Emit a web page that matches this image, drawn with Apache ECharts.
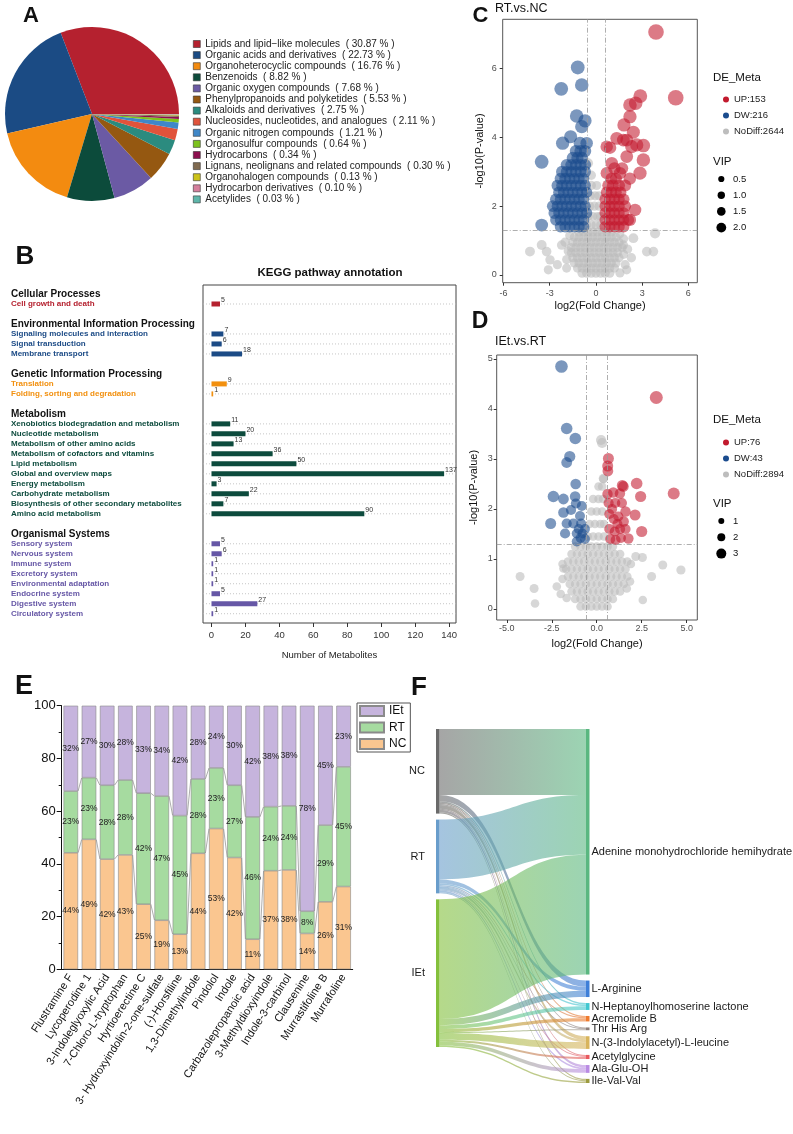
<!DOCTYPE html>
<html>
<head>
<meta charset="utf-8">
<script src="https://cdn.jsdelivr.net/npm/echarts@6/dist/echarts.min.js"></script>
<style>
  html, body { margin: 0; padding: 0; background: #fff; }
  #main { width: 793px; height: 1134px; }
</style>
</head>
<body>
<div id="main"></div>
<script>
const FONT = '"Liberation Sans", Arial, Helvetica, sans-serif';

// ---- A: compound classes (pie) ----
const classNames = [
  'Lipids and lipid\u2212like molecules', 'Organic acids and derivatives', 'Organoheterocyclic compounds',
  'Benzenoids', 'Organic oxygen compounds', 'Phenylpropanoids and polyketides', 'Alkaloids and derivatives',
  'Nucleosides, nucleotides, and analogues', 'Organic nitrogen compounds', 'Organosulfur compounds',
  'Hydrocarbons', 'Lignans, neolignans and related compounds', 'Organohalogen compounds',
  'Hydrocarbon derivatives', 'Acetylides'
];
const classShares = [30.87, 22.73, 16.76, 8.82, 7.68, 5.53, 2.75, 2.11, 1.21, 0.64, 0.34, 0.30, 0.13, 0.10, 0.03];
const classColors = ['#B5212F', '#1B4B84', '#F38B10', '#0C4B3B', '#6B5AA4', '#955811', '#2B8B7F', '#E0533B',
  '#3F87C8', '#7CC21C', '#8C0E4E', '#806A50', '#CCC31A', '#D57F9D', '#5EB6AA'];

// ---- B: KEGG pathway annotation ----
const keggHeaders = ['Cellular Processes', 'Environmental Information Processing', 'Genetic Information Processing',
  'Metabolism', 'Organismal Systems'];
const keggColors = ['#B5212F', '#1C4B86', '#F2900F', '#0D4B3D', '#6657A6'];
const keggPathways = ['Cell growth and death', 'Signaling molecules and interaction', 'Signal transduction',
  'Membrane transport', 'Translation', 'Folding, sorting and degradation',
  'Xenobiotics biodegradation and metabolism', 'Nucleotide metabolism', 'Metabolism of other amino acids',
  'Metabolism of cofactors and vitamins', 'Lipid metabolism', 'Global and overview maps', 'Energy metabolism',
  'Carbohydrate metabolism', 'Biosynthesis of other secondary metabolites', 'Amino acid metabolism',
  'Sensory system', 'Nervous system', 'Immune system', 'Excretory system', 'Environmental adaptation',
  'Endocrine system', 'Digestive system', 'Circulatory system'];
const keggGroupOf = [0, 1, 1, 1, 2, 2, 3, 3, 3, 3, 3, 3, 3, 3, 3, 3, 4, 4, 4, 4, 4, 4, 4, 4];
const keggCounts = [5, 7, 6, 18, 9, 1, 11, 20, 13, 36, 50, 137, 3, 22, 7, 90, 5, 6, 1, 1, 1, 5, 27, 1];
const keggTicks = [0, 20, 40, 60, 80, 100, 120, 140];

// ---- C / D: volcano plots, points are [log2FC, -log10 P, VIP] ----
const volcanoColors = { up: '#C21A2E', dw: '#1B4C8E', no: '#BDBDBD' };
const rtncNames = ['UP:153', 'DW:216', 'NoDiff:2644'];
const rtncUp = [
  [3.9,7.06,3.7],[5.18,5.15,3.7],[2.88,5.2,3.0],[2.58,4.99,2.9],[2.21,4.94,2.9],[2.21,4.6,2.8],[1.82,4.36,2.8],
  [2.43,4.15,2.7],[1.35,3.97,2.6],[2.0,3.92,2.6],[0.92,3.7,2.5],[2.65,3.78,2.8],[3.08,3.76,2.9],[3.08,3.34,2.9],
  [2.86,2.96,2.8],[2.21,1.6,2.4],[2.54,1.89,2.5],[1.03,3.25,2.5],[2.0,3.44,2.6],[1.56,2.96,2.5],[0.7,2.96,2.4],
  [2.32,3.73,2.7],[1.78,3.92,2.6],[0.7,3.73,2.5],
  [0.6,1.4,2.1],[0.9,1.4,2.1],[1.2,1.4,2.1],[1.5,1.4,2.1],[1.8,1.4,2.1],
  [0.6,1.6,2.1],[0.9,1.6,2.1],[1.2,1.6,2.1],[1.5,1.6,2.1],[1.8,1.6,2.1],[2.1,1.6,2.2],
  [0.6,1.8,2.1],[0.9,1.8,2.1],[1.2,1.8,2.1],[1.5,1.8,2.1],[1.8,1.8,2.1],
  [0.6,2.0,2.1],[0.9,2.0,2.1],[1.2,2.0,2.1],[1.5,2.0,2.1],[1.9,2.0,2.2],
  [0.6,2.2,2.1],[0.9,2.2,2.1],[1.2,2.2,2.1],[1.5,2.2,2.1],[1.8,2.2,2.2],
  [0.7,2.4,2.2],[1.0,2.4,2.2],[1.3,2.4,2.2],[1.6,2.4,2.2],
  [0.8,2.6,2.3],[1.1,2.6,2.3],[1.5,2.6,2.3],[1.9,2.6,2.3],
  [1.0,2.8,2.3],[1.3,2.8,2.3],[2.2,2.8,2.5],[1.2,3.1,2.4],[1.7,3.1,2.4]
];
const rtncDw = [
  [-1.18,6.03,3.0],[-2.25,5.41,3.0],[-0.92,5.52,2.9],[-1.25,4.62,2.9],[-0.71,4.48,2.8],[-0.92,4.31,2.8],
  [-1.64,4.02,2.7],[-2.16,3.83,2.8],[-1.03,3.83,2.6],[-0.6,3.83,2.5],[-3.52,3.29,3.0],[-3.52,1.45,2.6],
  [-2.3,1.4,2.1],[-2.0,1.4,2.1],[-1.7,1.4,2.1],[-1.4,1.4,2.1],[-1.1,1.4,2.1],[-0.8,1.4,2.1],
  [-2.6,1.6,2.1],[-2.3,1.6,2.1],[-2.0,1.6,2.1],[-1.7,1.6,2.1],[-1.4,1.6,2.1],[-1.1,1.6,2.1],[-0.8,1.6,2.1],
  [-2.7,1.8,2.2],[-2.4,1.8,2.1],[-2.1,1.8,2.1],[-1.8,1.8,2.1],[-1.5,1.8,2.1],[-1.2,1.8,2.1],[-0.9,1.8,2.1],[-0.6,1.8,2.0],
  [-2.8,2.0,2.2],[-2.5,2.0,2.1],[-2.2,2.0,2.1],[-1.9,2.0,2.1],[-1.6,2.0,2.1],[-1.3,2.0,2.1],[-1.0,2.0,2.1],[-0.7,2.0,2.0],
  [-2.6,2.2,2.2],[-2.3,2.2,2.1],[-2.0,2.2,2.1],[-1.7,2.2,2.1],[-1.4,2.2,2.1],[-1.1,2.2,2.1],[-0.8,2.2,2.1],
  [-2.4,2.4,2.2],[-2.1,2.4,2.1],[-1.8,2.4,2.1],[-1.5,2.4,2.1],[-1.2,2.4,2.1],[-0.9,2.4,2.1],[-0.6,2.4,2.0],
  [-2.5,2.6,2.2],[-2.2,2.6,2.2],[-1.9,2.6,2.1],[-1.6,2.6,2.1],[-1.3,2.6,2.1],[-1.0,2.6,2.1],[-0.7,2.6,2.1],
  [-2.3,2.8,2.2],[-2.0,2.8,2.2],[-1.7,2.8,2.1],[-1.4,2.8,2.1],[-1.1,2.8,2.1],[-0.8,2.8,2.1],
  [-2.2,3.0,2.3],[-1.9,3.0,2.2],[-1.6,3.0,2.2],[-1.3,3.0,2.2],[-1.0,3.0,2.2],[-0.7,3.0,2.2],
  [-1.9,3.2,2.3],[-1.6,3.2,2.3],[-1.3,3.2,2.3],[-1.0,3.2,2.3],[-0.7,3.2,2.3],
  [-1.5,3.4,2.4],[-1.2,3.4,2.4],[-0.9,3.4,2.4],[-1.3,3.6,2.4],[-1.0,3.6,2.4],[-0.7,3.6,2.4]
];
const rtncNo = [
  [-0.9,0.05,1.2],[-0.6,0.05,1.2],[-0.3,0.05,1.2],[0,0.05,1.2],[0.3,0.05,1.2],[0.6,0.05,1.2],[0.9,0.05,1.2],
  [-1.2,0.2,1.2],[-0.9,0.2,1.2],[-0.6,0.2,1.2],[-0.3,0.2,1.2],[0,0.2,1.2],[0.3,0.2,1.2],[0.6,0.2,1.2],[0.9,0.2,1.2],[1.2,0.2,1.2],
  [-1.4,0.35,1.2],[-1.1,0.35,1.2],[-0.8,0.35,1.2],[-0.5,0.35,1.2],[-0.2,0.35,1.2],[0.1,0.35,1.2],[0.4,0.35,1.2],[0.7,0.35,1.2],[1.0,0.35,1.2],[1.3,0.35,1.2],
  [-1.5,0.5,1.2],[-1.2,0.5,1.2],[-0.9,0.5,1.2],[-0.6,0.5,1.2],[-0.3,0.5,1.2],[0,0.5,1.2],[0.3,0.5,1.2],[0.6,0.5,1.2],[0.9,0.5,1.2],[1.2,0.5,1.2],[1.5,0.5,1.2],
  [-1.6,0.65,1.2],[-1.3,0.65,1.2],[-1.0,0.65,1.2],[-0.7,0.65,1.2],[-0.4,0.65,1.2],[-0.1,0.65,1.2],[0.2,0.65,1.2],[0.5,0.65,1.2],[0.8,0.65,1.2],[1.1,0.65,1.2],[1.4,0.65,1.2],
  [-1.6,0.8,1.2],[-1.3,0.8,1.2],[-1.0,0.8,1.2],[-0.7,0.8,1.2],[-0.4,0.8,1.2],[-0.1,0.8,1.2],[0.2,0.8,1.2],[0.5,0.8,1.2],[0.8,0.8,1.2],[1.1,0.8,1.2],[1.4,0.8,1.2],[1.7,0.8,1.2],
  [-1.5,0.95,1.2],[-1.2,0.95,1.2],[-0.9,0.95,1.2],[-0.6,0.95,1.2],[-0.3,0.95,1.2],[0,0.95,1.2],[0.3,0.95,1.2],[0.6,0.95,1.2],[0.9,0.95,1.2],[1.2,0.95,1.2],[1.5,0.95,1.2],
  [-1.4,1.1,1.2],[-1.1,1.1,1.2],[-0.8,1.1,1.2],[-0.5,1.1,1.2],[-0.2,1.1,1.2],[0.1,1.1,1.2],[0.4,1.1,1.2],[0.7,1.1,1.2],[1.0,1.1,1.2],[1.3,1.1,1.2],
  [-1.1,1.25,1.2],[-0.8,1.25,1.2],[-0.5,1.25,1.2],[-0.2,1.25,1.2],[0.1,1.25,1.2],[0.4,1.25,1.2],[0.7,1.25,1.2],[1.0,1.25,1.2],
  [-0.6,1.45,1.2],[-0.3,1.45,1.2],[0,1.45,1.2],[0.3,1.45,1.2],[-0.5,1.7,1.2],[-0.2,1.7,1.2],[0.1,1.7,1.2],[0.3,1.7,1.2],
  [-0.4,2.0,1.2],[-0.1,2.0,1.2],[0.2,2.0,1.2],[-0.35,2.3,1.2],[-0.05,2.3,1.2],[0.2,2.3,1.2],[-0.3,2.6,1.3],[0.05,2.6,1.2],
  [-0.3,2.9,1.3],[-0.5,3.25,1.4],
  [-1.9,0.45,1.2],[-1.8,0.7,1.2],[1.8,0.6,1.2],[2.05,0.75,1.3],[-2.0,0.95,1.3],[1.8,1.05,1.2],[-1.7,1.15,1.2],[1.55,1.2,1.2],
  [-4.28,0.68,1.5],[-3.52,0.87,1.5],[3.84,1.21,1.6],[2.43,1.07,1.5],[3.3,0.68,1.4],[3.73,0.68,1.4],[-3.2,0.68,1.4],
  [-2.98,0.44,1.3],[-2.22,0.87,1.4],[1.78,0.87,1.3],[2.0,0.15,1.2],[1.56,0.06,1.2],[-3.09,0.15,1.2],[-2.5,0.3,1.2],
  [2.3,0.5,1.3],[-1.9,0.2,1.2],[1.9,0.3,1.2]
];

const ietrtNames = ['UP:76', 'DW:43', 'NoDiff:2894'];
const ietrtUp = [
  [3.31,4.23,4.0],[0.65,3.01,3.0],[0.61,2.86,3.0],[0.62,2.76,2.9],[1.42,2.47,3.0],[2.22,2.51,3.3],[1.48,2.45,2.9],
  [4.28,2.31,3.5],[0.92,2.33,2.7],[1.29,2.31,2.7],[2.44,2.25,3.1],[0.66,2.12,2.6],[1.03,2.12,2.6],[1.4,2.12,2.6],
  [2.13,1.88,3.0],[2.5,1.55,3.1],[1.76,1.41,2.7],[0.7,1.9,2.6],[0.95,1.8,2.6],[1.2,1.85,2.6],[1.5,1.75,2.7],
  [0.7,1.6,2.6],[1.0,1.55,2.6],[1.3,1.6,2.6],[0.75,1.4,2.5],[1.05,1.38,2.5],[1.35,1.42,2.5],[1.6,1.6,2.6],
  [0.85,2.0,2.6],[1.15,1.7,2.6],[1.6,1.95,2.7],[0.6,2.3,2.7]
];
const ietrtDw = [
  [-1.96,4.85,3.8],[-1.67,3.61,3.3],[-1.19,3.41,3.3],[-1.5,3.05,3.1],[-1.67,2.93,2.9],[-1.17,2.5,2.8],
  [-2.41,2.25,3.2],[-1.85,2.2,2.9],[-1.2,2.25,2.8],[-1.16,2.11,2.6],[-0.83,2.06,2.5],[-1.85,1.93,2.8],
  [-1.43,1.98,2.6],[-0.93,1.86,2.5],[-2.56,1.71,3.0],[-1.67,1.71,2.6],[-1.3,1.71,2.6],[-0.87,1.71,2.5],
  [-1.76,1.51,2.6],[-1.11,1.51,2.5],[-0.8,1.51,2.4],[-0.65,1.6,2.4],[-1.11,1.35,2.5],[-0.65,1.4,2.4],
  [-1.0,1.6,2.4],[-0.9,1.42,2.4]
];
const ietrtNo = [
  [-0.9,0.05,1.8],[-0.6,0.05,1.8],[-0.3,0.05,1.8],[0,0.05,1.8],[0.3,0.05,1.8],[0.6,0.05,1.8],
  [-1.2,0.2,1.8],[-0.9,0.2,1.8],[-0.6,0.2,1.8],[-0.3,0.2,1.8],[0,0.2,1.8],[0.3,0.2,1.8],[0.6,0.2,1.8],[0.9,0.2,1.8],
  [-1.4,0.35,1.8],[-1.1,0.35,1.8],[-0.8,0.35,1.8],[-0.5,0.35,1.8],[-0.2,0.35,1.8],[0.1,0.35,1.8],[0.4,0.35,1.8],[0.7,0.35,1.8],[1.0,0.35,1.8],[1.3,0.35,1.8],
  [-1.5,0.5,1.8],[-1.2,0.5,1.8],[-0.9,0.5,1.8],[-0.6,0.5,1.8],[-0.3,0.5,1.8],[0,0.5,1.8],[0.3,0.5,1.8],[0.6,0.5,1.8],[0.9,0.5,1.8],[1.2,0.5,1.8],[1.5,0.5,1.8],
  [-1.6,0.65,1.8],[-1.3,0.65,1.8],[-1.0,0.65,1.8],[-0.7,0.65,1.8],[-0.4,0.65,1.8],[-0.1,0.65,1.8],[0.2,0.65,1.8],[0.5,0.65,1.8],[0.8,0.65,1.8],[1.1,0.65,1.8],[1.4,0.65,1.8],[1.7,0.65,1.8],
  [-1.7,0.8,1.8],[-1.4,0.8,1.8],[-1.1,0.8,1.8],[-0.8,0.8,1.8],[-0.5,0.8,1.8],[-0.2,0.8,1.8],[0.1,0.8,1.8],[0.4,0.8,1.8],[0.7,0.8,1.8],[1.0,0.8,1.8],[1.3,0.8,1.8],[1.6,0.8,1.8],
  [-1.6,0.95,1.8],[-1.3,0.95,1.8],[-1.0,0.95,1.8],[-0.7,0.95,1.8],[-0.4,0.95,1.8],[-0.1,0.95,1.8],[0.2,0.95,1.8],[0.5,0.95,1.8],[0.8,0.95,1.8],[1.1,0.95,1.8],[1.4,0.95,1.8],[1.7,0.95,1.8],
  [-1.4,1.1,1.8],[-1.1,1.1,1.8],[-0.8,1.1,1.8],[-0.5,1.1,1.8],[-0.2,1.1,1.8],[0.1,1.1,1.8],[0.4,1.1,1.8],[0.7,1.1,1.8],[1.0,1.1,1.8],[1.3,1.1,1.8],
  [-1.2,1.25,1.8],[-0.9,1.25,1.8],[-0.6,1.25,1.8],[-0.3,1.25,1.8],[0,1.25,1.8],[0.3,1.25,1.8],[0.6,1.25,1.8],[0.9,1.25,1.8],
  [-0.5,1.45,1.8],[-0.2,1.45,1.8],[0.1,1.45,1.8],[0.4,1.45,1.8],[-0.4,1.7,1.8],[-0.1,1.7,1.8],[0.2,1.7,1.8],[0.4,1.7,1.8],
  [-0.3,1.95,1.8],[0,1.95,1.8],[0.3,1.95,1.8],[-0.2,2.2,1.8],[0.1,2.2,1.8],[0.35,2.2,1.8],[0.1,2.45,1.8],[0.3,2.45,1.8],
  [0.37,2.6,1.8],[0.24,3.38,2.6],[0.3,3.32,2.6],[0.37,2.61,2.2],
  [-1.9,0.9,1.8],[1.9,0.9,1.8],[-1.9,0.6,1.8],[1.85,0.55,1.8],
  [-4.26,0.65,2.0],[-3.48,0.41,2.0],[-3.43,0.11,1.8],[3.05,0.65,2.0],[3.67,0.88,2.0],[4.68,0.78,2.1],[2.56,0.18,1.8],
  [2.17,1.05,2.0],[2.54,1.03,2.0],[1.67,0.41,1.8],[-2.22,0.45,1.8],[-1.85,0.81,1.8],[-2.0,0.3,1.8],[-1.67,0.22,1.8]
];
const vipKeysC = [0.5, 1.0, 1.5, 2.0];
const vipKeysD = [1, 2, 3];

// ---- E: relative abundance of indole compounds ----
const compounds = ['Flustramine F', 'Lycoperodine 1', '3-Indoleglyoxylic Acid', '7-Chloro-L-tryptophan',
  'Hyrtioerectine C', '3- Hydroxyindolin-2-one-sulfate', '(-)-Horsfiline', '1,3-Dimethylindole', 'Pindolol',
  'Indole', 'Carbazolepropanoic acid', '3-Methyldioxyindole', 'Indole-3-carbinol', 'Clausenine',
  'Murrastifoline B', 'Murrafoline'];
const shareNC = [44.2, 49.3, 41.8, 43.4, 24.7, 18.6, 13.3, 44.0, 53.4, 42.4, 11.4, 37.4, 37.7, 13.6, 25.6, 31.4];
const shareRT = [23.4, 23.4, 28.0, 28.4, 42.1, 47.1, 45.0, 28.2, 23.0, 27.4, 46.4, 24.3, 24.3, 8.4, 29.1, 45.4];
const shareIEt = [32.4, 27.3, 30.2, 28.2, 33.2, 34.3, 41.7, 27.8, 23.6, 30.2, 42.2, 38.3, 38.0, 78.0, 45.3, 23.2];

// ---- F: sankey ----
const sankeyGroups = ['NC', 'RT', 'IEt'];
const groupColors = ['#6A6A6A', '#699DCB', '#84C03C'];
const sankeyMetabolites = ['Adenine monohydrochloride hemihydrate', 'L-Arginine', 'N-Heptanoylhomoserine lactone',
  'Acremolide B', 'Thr His Arg', 'N-(3-Indolylacetyl)-L-leucine', 'Acetylglycine', 'Ala-Glu-OH', 'Ile-Val-Val'];
const metaboliteColors = ['#5AB780', '#3F7FD8', '#41C7D0', '#EE7A2E', '#8D7F7A', '#D8B45C', '#E8595E', '#B98BE3', '#9C9B3E'];
const flowNC = [64, 6, 1.5, 1.3, 0.9, 3.5, 1, 2.5, 1.3];
const flowRT = [58, 4, 1.5, 1, 0.9, 2.3, 1, 1.6, 1.2];
const flowIEt = [116, 6, 3.7, 3, 0.9, 6.5, 2, 3.5, 1.5];

// ---------- build ----------
const keggRows = [];
let lastGroup = -1;
keggPathways.forEach(function (p, i) {
  const g = keggGroupOf[i];
  if (g !== lastGroup) {
    if (lastGroup !== -1) keggRows.push({ label: 'gap' + g, type: 'gap' });
    keggRows.push({ label: keggHeaders[g], type: 'head', group: g });
    lastGroup = g;
  }
  keggRows.push({ label: p, type: 'item', group: g, count: keggCounts[i] });
});
const keggRich = { h: { fontSize: 10, fontWeight: 'bold', color: '#111', fontFamily: FONT } };
keggColors.forEach(function (c, k) {
  keggRich['g' + k] = { fontSize: 8, fontWeight: 'bold', color: c, fontFamily: FONT };
});

const sankeyNodes = sankeyGroups.map(function (g, i) {
  return { name: g, itemStyle: { color: groupColors[i] }, label: { position: 'left', distance: 11 } };
}).concat(sankeyMetabolites.map(function (m, i) {
  return { name: m, itemStyle: { color: metaboliteColors[i] } };
}));
const sankeyLinks = [];
[flowNC, flowRT, flowIEt].forEach(function (flows, g) {
  flows.forEach(function (v, i) {
    sankeyLinks.push({ source: sankeyGroups[g], target: sankeyMetabolites[i], value: v });
  });
});

const connectorData = compounds.slice(0, -1).map(function (c, i) {
  return [i, shareNC[i], shareNC[i + 1], shareNC[i] + shareRT[i], shareNC[i + 1] + shareRT[i + 1]];
});

function volcanoAxis(min, max, ticks, gridIndex, name, gap, margin, fmt) {
  return {
    gridIndex: gridIndex, type: 'value', min: min, max: max,
    axisLine: { show: false, onZero: false },
    axisTick: { show: true, customValues: ticks, length: 3, lineStyle: { color: '#333' } },
    axisLabel: { customValues: ticks, fontSize: 9, color: '#4d4d4d', margin: margin, formatter: fmt },
    splitLine: { show: false },
    name: name, nameLocation: 'middle', nameGap: gap,
    nameTextStyle: { fontSize: 11, color: '#111' }
  };
}
function volcanoSeries(names, up, dw, no, axis, sizeFn) {
  const base = { type: 'scatter', xAxisIndex: axis, yAxisIndex: axis, symbolSize: sizeFn, silent: true };
  return [
    Object.assign({}, base, { name: names[2], data: no, z: 2, itemStyle: { color: volcanoColors.no, opacity: 0.6 } }),
    Object.assign({}, base, { name: names[1], data: dw, z: 3, itemStyle: { color: volcanoColors.dw, opacity: 0.58 } }),
    Object.assign({}, base, { name: names[0], data: up, z: 4, itemStyle: { color: volcanoColors.up, opacity: 0.58 } })
  ];
}
const sizeC = function (d) { return 6 + 2.6 * d[2]; };
const sizeD = function (d) { return 5 + 2 * d[2]; };
function refLine(axis, x1, x2, y1) {
  return {
    type: 'line', xAxisIndex: axis, yAxisIndex: axis, silent: true, symbol: 'none', data: [],
    markLine: {
      silent: true, symbol: 'none', label: { show: false },
      lineStyle: { color: '#9a9a9a', type: [5, 2, 1, 2], width: 0.8 },
      data: [{ xAxis: x1 }, { xAxis: x2 }, { yAxis: y1 }]
    }
  };
}

function txt(text, x, y, size, weight, align) {
  return { type: 'text', x: x, y: y, silent: true,
    style: { text: text, fontSize: size, fontWeight: weight || 'normal', fontFamily: FONT, fill: '#111',
      align: align || 'left', verticalAlign: 'middle' } };
}
const graphics = [
  txt('A', 31, 15.5, 22, 'bold', 'center'),
  txt('B', 25, 257, 26, 'bold', 'center'),
  txt('C', 480.5, 15.5, 22, 'bold', 'center'),
  txt('D', 480, 321.5, 23, 'bold', 'center'),
  txt('E', 24, 687, 27, 'bold', 'center'),
  txt('F', 419, 688, 26, 'bold', 'center'),
  txt('KEGG pathway annotation', 330, 273, 11.5, 'bold', 'center'),
  txt('RT.vs.NC', 495, 9, 12.5),
  txt('IEt.vs.RT', 495, 342, 12.5),
  txt('DE_Meta', 713, 78, 11.5),
  txt('VIP', 713, 162, 11.5),
  txt('DE_Meta', 713, 420, 11.5),
  txt('VIP', 713, 503.5, 11.5)
];
const keySizeC = function (v) { return 5 + 2.4 * v; };
const keySizeD = function (v) { return 4 + 2 * v; };
vipKeysC.forEach(function (v, i) {
  const y = 179 + i * 16.2;
  graphics.push({ type: 'circle', silent: true, shape: { cx: 721.3, cy: y, r: keySizeC(v) / 2 }, style: { fill: '#000' } });
  graphics.push(txt(v.toFixed(1), 733, y, 9.5));
});
vipKeysD.forEach(function (v, i) {
  const y = 521 + i * 16.3;
  graphics.push({ type: 'circle', silent: true, shape: { cx: 721.3, cy: y, r: keySizeD(v) / 2 }, style: { fill: '#000' } });
  graphics.push(txt(String(v), 733, y, 9.5));
});

const chart = echarts.init(document.getElementById('main'));

const option = {
  animation: false,
  textStyle: { fontFamily: FONT },
  graphic: { elements: graphics },
  legend: [
    {
      data: classNames, orient: 'vertical', left: 188, top: 34, itemWidth: 7, itemHeight: 7, itemGap: 1.1,
      icon: 'rect', selectedMode: false,
      itemStyle: { borderColor: '#333', borderWidth: 0.6 },
      textStyle: { fontSize: 10, lineHeight: 10, color: '#222' },
      formatter: function (name) {
        const i = classNames.indexOf(name);
        return name + '  ( ' + classShares[i].toFixed(2) + ' % )';
      }
    },
    {
      data: rtncNames, orient: 'vertical', left: 718, top: 89, itemWidth: 6, itemHeight: 6, itemGap: 5,
      icon: 'circle', selectedMode: false, itemStyle: { opacity: 1 },
      textStyle: { fontSize: 9.5, lineHeight: 11, color: '#222' }
    },
    {
      data: ietrtNames, orient: 'vertical', left: 718, top: 432, itemWidth: 6, itemHeight: 6, itemGap: 5,
      icon: 'circle', selectedMode: false, itemStyle: { opacity: 1 },
      textStyle: { fontSize: 9.5, lineHeight: 11, color: '#222' }
    },
    {
      data: ['IEt', 'RT', 'NC'], orient: 'vertical', left: 357, top: 703, itemWidth: 24, itemHeight: 10,
      itemGap: 4.5, icon: 'rect', selectedMode: false,
      borderColor: '#555', borderWidth: 1, padding: [2, 4, 2, 2],
      textStyle: { fontSize: 12, lineHeight: 10, color: '#111' }
    }
  ],
  grid: [
    { left: 203, top: 285, width: 253, height: 338, show: true, borderColor: '#444', borderWidth: 1 },
    { left: 203, top: 289, width: 253, height: 329.7 },
    { left: 502.7, top: 19.3, width: 194.6, height: 263.4, show: true, borderColor: '#555', borderWidth: 1 },
    { left: 496.7, top: 355, width: 200.6, height: 265, show: true, borderColor: '#555', borderWidth: 1 },
    { left: 61.7, top: 705.7, width: 291, height: 263.6 }
  ],
  xAxis: [
    {
      gridIndex: 0, type: 'value', min: -5, max: 144,
      axisLine: { show: false, onZero: false },
      axisTick: { customValues: keggTicks, length: 4, lineStyle: { color: '#333' } },
      axisLabel: { customValues: keggTicks, fontSize: 9.5, color: '#333', margin: 7 },
      splitLine: { show: false },
      name: 'Number of Metabolites', nameLocation: 'middle', nameGap: 27,
      nameTextStyle: { fontSize: 9.5, color: '#222' }
    },
    { gridIndex: 1, type: 'value', min: -5, max: 144, show: false },
    volcanoAxis(-6.05, 6.58, [-6, -3, 0, 3, 6], 2, 'log2(Fold Change)', 18, 6),
    volcanoAxis(-5.56, 5.59, [-5, -2.5, 0, 2.5, 5], 3, 'log2(Fold Change)', 18, 4,
      function (v) { return v.toFixed(1); }),
    {
      gridIndex: 4, type: 'category', data: compounds,
      axisLine: { lineStyle: { color: '#111', width: 1 } },
      axisTick: { length: 3, lineStyle: { color: '#111' } },
      axisLabel: { rotate: 57, interval: 0, fontSize: 11, color: '#111', margin: 6 }
    }
  ],
  yAxis: [
    { gridIndex: 0, type: 'value', show: false },
    {
      gridIndex: 1, type: 'category', inverse: true,
      data: keggRows.map(function (r) { return r.label; }),
      axisLine: { show: false }, axisTick: { show: false },
      axisLabel: {
        interval: 0, align: 'left', margin: 192, rich: keggRich,
        formatter: function (value, index) {
          const r = keggRows[index];
          if (!r || r.type === 'gap') return '';
          return r.type === 'head' ? '{h|' + r.label + '}' : '{g' + r.group + '|' + r.label + '}';
        }
      }
    },
    volcanoAxis(-0.224, 7.43, [0, 2, 4, 6], 2, '-log10(P-value)', 17, 6),
    volcanoAxis(-0.22, 5.08, [0, 1, 2, 3, 4, 5], 3, '-log10(P-value)', 17, 4),
    {
      gridIndex: 4, type: 'value', min: 0, max: 100, interval: 20,
      axisLine: { show: true, lineStyle: { color: '#111', width: 1 } },
      axisTick: { show: true, length: 5, lineStyle: { color: '#111' } },
      minorTick: { show: true, splitNumber: 2, length: 3, lineStyle: { color: '#111' } },
      axisLabel: { fontSize: 13, color: '#111', margin: 6 },
      splitLine: { show: false }
    }
  ],
  series: [
    {
      type: 'pie', center: [92, 114], radius: 87, startAngle: 0, clockwise: false, silent: true,
      label: { show: false }, labelLine: { show: false },
      data: classNames.map(function (n, i) {
        return { name: n, value: classShares[i], itemStyle: { color: classColors[i] } };
      })
    },
    {
      type: 'custom', xAxisIndex: 1, yAxisIndex: 1, silent: true, z: 1,
      encode: { x: 0, y: 1 },
      data: keggRows.map(function (r, i) { return r.type === 'item' ? [0, i] : null; })
        .filter(function (d) { return d; }),
      renderItem: function (params, api) {
        const y = api.coord([0, api.value(1)])[1];
        const cs = params.coordSys;
        return { type: 'line', shape: { x1: cs.x, y1: y, x2: cs.x + cs.width, y2: y },
          style: { stroke: '#b8b8b8', lineWidth: 0.8, lineDash: [1, 2] } };
      }
    },
    {
      type: 'bar', xAxisIndex: 1, yAxisIndex: 1, barWidth: 5, silent: true, z: 3,
      data: keggRows.map(function (r) {
        return r.type === 'item' ? { value: r.count, itemStyle: { color: keggColors[r.group] } } : '-';
      }),
      label: { show: true, position: 'right', distance: 1, offset: [0, -4], fontSize: 7, color: '#333' }
    }
  ]
    .concat(volcanoSeries(rtncNames, rtncUp, rtncDw, rtncNo, 2, sizeC))
    .concat(volcanoSeries(ietrtNames, ietrtUp, ietrtDw, ietrtNo, 3, sizeD))
    .concat([refLine(2, -0.585, 0.585, 1.301), refLine(3, -0.585, 0.585, 1.301)])
    .concat([
      ['NC', shareNC, '#FAC690'], ['RT', shareRT, '#A6DBA0'], ['IEt', shareIEt, '#C6B4DD']
    ].map(function (s) {
      return {
        type: 'bar', name: s[0], stack: 'share', xAxisIndex: 4, yAxisIndex: 4, barWidth: '80%', data: s[1],
        silent: true, z: 3,
        itemStyle: { color: s[2], borderColor: '#8a8a8a', borderWidth: 0.6 },
        label: { show: true, position: 'inside', fontSize: 8.5, color: '#222',
          formatter: function (p) { return Math.round(p.value) + '%'; } }
      };
    }))
    .concat([{
      type: 'custom', xAxisIndex: 4, yAxisIndex: 4, silent: true, z: 4,
      encode: { x: 0, y: [1, 2, 3, 4] },
      data: connectorData,
      renderItem: function (params, api) {
        const i = api.value(0);
        const half = api.size([1, 0])[0] * 0.4;
        const lines = [];
        [[1, 2], [3, 4]].forEach(function (k) {
          const p1 = api.coord([i, api.value(k[0])]);
          const p2 = api.coord([i + 1, api.value(k[1])]);
          lines.push({ type: 'line', shape: { x1: p1[0] + half, y1: p1[1], x2: p2[0] - half, y2: p2[1] },
            style: { stroke: '#8a8a8a', lineWidth: 0.7 } });
        });
        return { type: 'group', children: lines };
      }
    }])
    .concat([{
      type: 'sankey', left: 436, top: 729, width: 153.5, height: 354,
      nodeWidth: 3.5, nodeGap: 6, layoutIterations: 0, draggable: false, silent: true,
      data: sankeyNodes, links: sankeyLinks,
      label: { fontSize: 11, color: '#1a1a1a', distance: 2 },
      lineStyle: { color: 'gradient', opacity: 0.6, curveness: 0.5 },
      emphasis: { disabled: true }
    }])
};

chart.setOption(option);
</script>
</body>
</html>
